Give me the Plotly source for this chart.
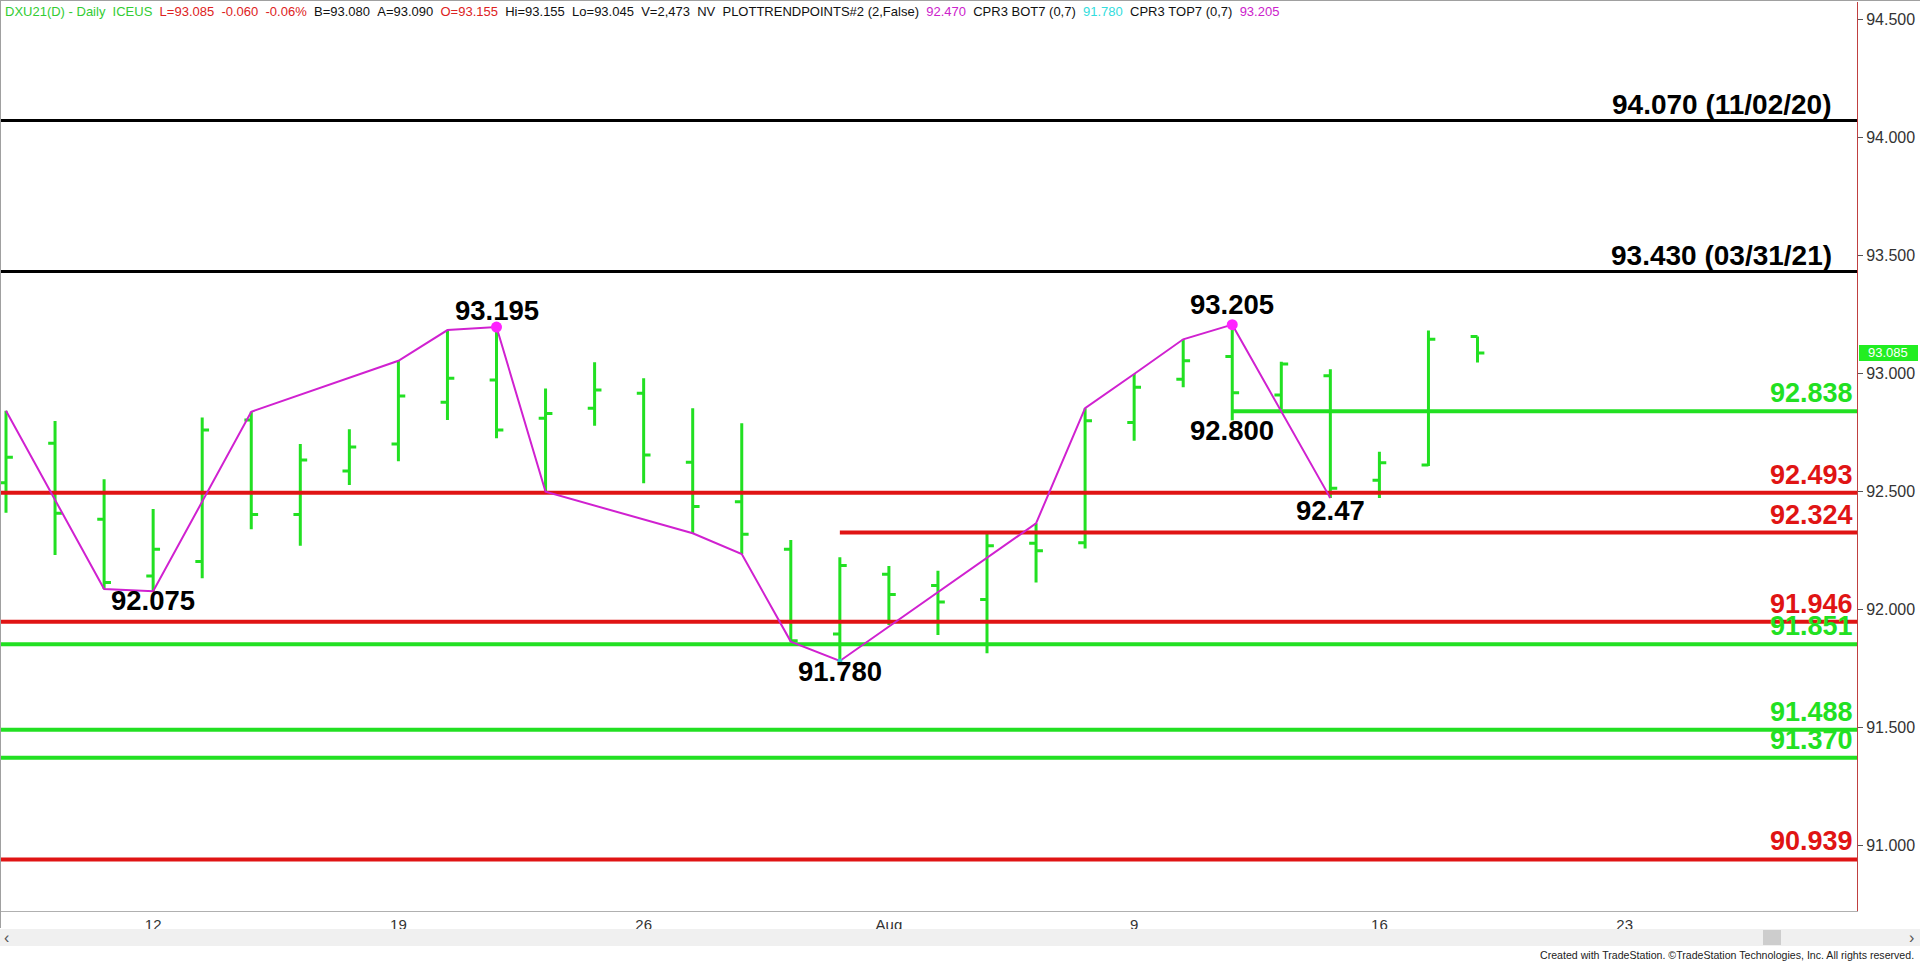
import plotly.graph_objects as go

# ---------------- data ----------------
dates = ["Jul 7", "Jul 8", "Jul 9", "Jul 12", "Jul 13", "Jul 14", "Jul 15", "Jul 16",
         "Jul 19", "Jul 20", "Jul 21", "Jul 22", "Jul 23", "Jul 26", "Jul 27", "Jul 28",
         "Jul 29", "Jul 30", "Aug 2", "Aug 3", "Aug 4", "Aug 5", "Aug 6", "Aug 9",
         "Aug 10", "Aug 11", "Aug 12", "Aug 13", "Aug 16", "Aug 17", "Aug 18"]
opens = [92.535, 92.702, 92.380, 92.140, 92.201, 92.801, 92.401, 92.585,
         92.699, 92.876, 92.971, 92.808, 92.851, 92.914, 92.622, 92.455,
         92.253, 91.894, 92.147, 92.100, 92.040, 92.279, 92.281, 92.790,
         92.974, 93.070, 92.907, 92.989, 92.546, 92.610, 93.155]
highs = [92.840, 92.797, 92.550, 92.424, 92.812, 92.836, 92.699, 92.762,
         93.052, 93.182, 93.195, 92.935, 93.046, 92.978, 92.851, 92.787,
         92.293, 92.219, 92.182, 92.162, 92.321, 92.363, 92.851, 92.996,
         93.143, 93.205, 93.048, 93.016, 92.667, 93.180, 93.155]
lows = [92.408, 92.229, 92.085, 92.075, 92.130, 92.338, 92.268, 92.526,
        92.626, 92.801, 92.724, 92.497, 92.777, 92.533, 92.321, 92.233,
        91.862, 91.780, 91.932, 91.890, 91.813, 92.112, 92.257, 92.713,
        92.940, 92.800, 92.846, 92.470, 92.470, 92.606, 93.045]
closes = [92.643, 92.406, 92.112, 92.253, 92.759, 92.401, 92.632, 92.687,
          92.903, 92.978, 92.759, 92.829, 92.928, 92.653, 92.434, 92.317,
          91.866, 92.184, 92.062, 92.030, 92.268, 92.247, 92.798, 92.940,
          93.052, 92.917, 93.038, 92.512, 92.620, 93.143, 93.085]

tick_idx = [3, 8, 13, 18, 23, 28, 33]
tick_text = ["12", "19", "26", "Aug", "9", "16", "23"]
y_ticks = [91.0, 91.5, 92.0, 92.5, 93.0, 93.5, 94.0, 94.5]

pivot_idx = [0, 2, 3, 5, 8, 9, 10, 11, 14, 15, 16, 17, 21, 22, 23, 24, 25, 27]
pivot_price = [92.840, 92.085, 92.075, 92.836, 93.052, 93.182, 93.195, 92.497,
               92.321, 92.233, 91.862, 91.780, 92.363, 92.851, 92.996, 93.143,
               93.205, 92.470]

level_values = [94.070, 93.430, 92.838, 92.493, 92.324, 91.946, 91.851, 91.488, 91.370, 90.939]
level_labels = ["94.070 (11/02/20)", "93.430 (03/31/21)", "92.838", "92.493", "92.324",
                "91.946", "91.851", "91.488", "91.370", "90.939"]
level_kind = ["black", "black", "green", "red", "red", "red", "green", "green", "green", "red"]
level_start = [None, None, 25, None, 17, None, None, None, None, None]

point_idx = [10, 3, 17, 25, 25, 27]
point_price = [93.195, 92.075, 91.780, 93.205, 92.800, 92.470]
point_text = ["93.195", "92.075", "91.780", "93.205", "92.800", "92.47"]
point_shift = [17, -9, -11, 20, -10, -12]

last_price = "93.085"

header_items = [
    ("DXU21(D) - Daily  ICEUS", "green"),
    ("L=93.085", "red"), ("-0.060", "red"), ("-0.06%", "red"),
    ("B=93.080", "black"), ("A=93.090", "black"),
    ("O=93.155", "red"),
    ("Hi=93.155", "black"), ("Lo=93.045", "black"), ("V=2,473", "black"), ("NV", "black"),
    ("PLOTTRENDPOINTS#2 (2,False)", "black"),
    ("92.470", "magenta"), ("CPR3 BOT7 (0,7)", "black"),
    ("91.780", "cyan"), ("CPR3 TOP7 (0,7)", "black"),
    ("93.205", "magenta"),
]

# ---------------- geometry / style ----------------
W, H = 1920, 963
ML, MR, MT, MB = 1, 63, 2, 52
X0, X1 = -0.102, 37.737
Y0, Y1 = 90.7205, 94.5722
PW = W - ML - MR
PH = H - MT - MB

def px_x(X):
    return (X - ML) / PW

def px_y(Y):
    return (H - MB - Y) / PH

GREEN = "#22e022"
RED = "#e01414"
MAGENTA = "#d021d0"
FONT = "Liberation Sans, Arial, sans-serif"
COLORS = {"black": "#000000", "green": GREEN, "red": RED}
HEAD_COLORS = {"green": "#33cc33", "red": "#dd2222", "black": "#111111",
               "magenta": "#cc22cc", "cyan": "#33dddd"}

x_vals = list(range(len(dates)))

fig = go.Figure()

fig.add_trace(go.Ohlc(
    x=x_vals, open=opens, high=highs, low=lows, close=closes,
    increasing=dict(line=dict(color=GREEN, width=3)),
    decreasing=dict(line=dict(color=GREEN, width=3)),
    tickwidth=0.14, hoverinfo="skip", showlegend=False,
))

for v, kind, st in zip(level_values, level_kind, level_start):
    xs = X0 if st is None else st
    fig.add_trace(go.Scatter(
        x=[xs, X1], y=[v, v], mode="lines",
        line=dict(color=COLORS[kind], width=3 if kind == "black" else 4),
        hoverinfo="skip", showlegend=False,
    ))

fig.add_trace(go.Scatter(
    x=pivot_idx, y=pivot_price, mode="lines",
    line=dict(color=MAGENTA, width=2), hoverinfo="skip", showlegend=False,
))
fig.add_trace(go.Scatter(
    x=[point_idx[0], point_idx[3]], y=[point_price[0], point_price[3]], mode="markers",
    marker=dict(color="#ff22ff", size=11), hoverinfo="skip", showlegend=False,
))
fig.add_trace(go.Scatter(
    x=[point_idx[2]], y=[point_price[2]], mode="markers",
    marker=dict(color="#33cccc", size=5), hoverinfo="skip", showlegend=False,
))

ann = []
# right-side level labels
for v, lab, kind in zip(level_values, level_labels, level_kind):
    ann.append(dict(
        x=px_x(1834 if kind == "black" else 1855), xref="paper", xanchor="right",
        y=v, yref="y", yanchor="middle", yshift=16 if kind == "black" else 18,
        text="<b>%s</b>" % lab, showarrow=False,
        font=dict(family=FONT, size=28 if kind == "black" else 27, color=COLORS[kind]),
    ))
# swing point labels
for i, p, t, s in zip(point_idx, point_price, point_text, point_shift):
    ann.append(dict(
        x=i, xref="x", xanchor="center", y=p, yref="y", yanchor="middle", yshift=s,
        text="<b>%s</b>" % t, showarrow=False,
        font=dict(family=FONT, size=27.5, color="#000000"),
    ))

# header line (single flowing text with coloured spans)
sep = "\u00a0\u00a0"
header_html = sep.join(
    '<span style="color:%s">%s</span>' % (HEAD_COLORS[c], t.replace(" ", "\u00a0"))
    for t, c in header_items
)
ann.append(dict(
    x=px_x(3), xref="paper", xanchor="left", y=px_y(11), yref="paper", yanchor="middle",
    text=header_html, showarrow=False, font=dict(family=FONT, size=13, color="#111111"),
))

# last price tag
ann.append(dict(
    x=px_x(1888), xref="paper", xanchor="center", y=float(last_price), yref="y", yanchor="middle",
    text=last_price, showarrow=False, font=dict(family=FONT, size=13, color="#ffffff"),
))

# footer
ann.append(dict(
    x=px_x(1916), xref="paper", xanchor="right", y=px_y(955), yref="paper", yanchor="middle",
    text="Created with TradeStation. \u00a9TradeStation Technologies, Inc. All rights reserved.",
    showarrow=False, font=dict(family=FONT, size=10.6, color="#222222"),
))
ann.append(dict(x=px_x(6), xref="paper", xanchor="center", y=px_y(937), yref="paper",
                yanchor="middle", text="\u2039", showarrow=False,
                font=dict(family=FONT, size=16, color="#555555")))
ann.append(dict(x=px_x(1911), xref="paper", xanchor="center", y=px_y(937), yref="paper",
                yanchor="middle", text="\u203a", showarrow=False,
                font=dict(family=FONT, size=16, color="#555555")))

shapes = [
    # price tag box
    dict(type="rect", xref="paper", yref="y", x0=px_x(1859), x1=px_x(1918),
         y0=float(last_price) - 8 / 236.0, y1=float(last_price) + 8 / 236.0,
         fillcolor="#22ee22", line=dict(width=0), layer="below"),
    # scrollbar
    dict(type="rect", xref="paper", yref="paper", x0=px_x(0), x1=px_x(1920),
         y0=px_y(946), y1=px_y(929), fillcolor="#f0f0f0", line=dict(width=0)),
    dict(type="rect", xref="paper", yref="paper", x0=px_x(1763), x1=px_x(1781),
         y0=px_y(945), y1=px_y(930), fillcolor="#cdcdcd", line=dict(width=0)),
    # frame
    dict(type="line", xref="paper", yref="paper", x0=px_x(0.5), x1=px_x(0.5),
         y0=px_y(0), y1=px_y(928), line=dict(color="#a0a0a0", width=1)),
    dict(type="line", xref="paper", yref="paper", x0=px_x(0), x1=px_x(1920),
         y0=px_y(0.5), y1=px_y(0.5), line=dict(color="#a0a0a0", width=1)),
]

fig.update_layout(
    width=W, height=H,
    margin=dict(l=ML, r=MR, t=MT, b=MB, pad=0),
    paper_bgcolor="#ffffff", plot_bgcolor="#ffffff",
    showlegend=False, hovermode=False,
    annotations=ann, shapes=shapes,
    xaxis=dict(
        range=[X0, X1], tickmode="array", tickvals=tick_idx, ticktext=tick_text,
        showgrid=False, zeroline=False, showline=True, linecolor="#b0b0b0", linewidth=1,
        ticks="", tickfont=dict(family=FONT, size=15, color="#333333"),
        rangeslider=dict(visible=False), fixedrange=True,
    ),
    yaxis=dict(
        range=[Y0, Y1], side="right", tickmode="array", tickvals=y_ticks,
        ticktext=["%.3f" % v for v in y_ticks],
        showgrid=False, zeroline=False, showline=True, linecolor="#c04040", linewidth=1,
        ticks="outside", ticklen=5, tickcolor="#555555",
        tickfont=dict(family=FONT, size=16, color="#333333"), fixedrange=True,
    ),
)

fig.write_html(
    "out.html",
    config={"displayModeBar": False},
    post_script="document.body.style.margin='0';document.body.style.padding='0';"
                "document.body.style.overflow='hidden';",
)
